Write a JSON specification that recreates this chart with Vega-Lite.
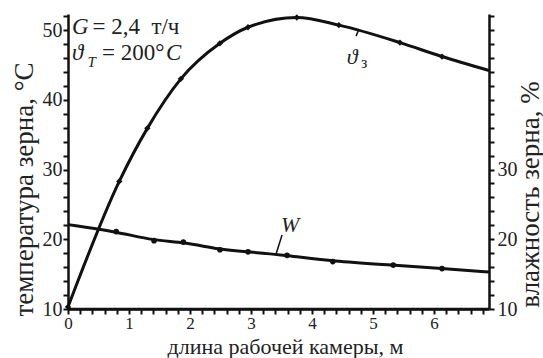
{
  "$schema": "https://vega.github.io/schema/vega-lite/v6.json",
  "width": 421,
  "height": 295,
  "autosize": "none",
  "padding": {"left": 68, "top": 14, "right": 54, "bottom": 49},
  "background": "white",
  "config": {
    "view": {"stroke": null},
    "axis": {"labelFont": "Liberation Serif", "titleFont": "Liberation Serif", "grid": false, "domain": true, "ticks": true, "labels": true, "labelOverlap": false}
  },
  "datasets": {
    "temperature": [
      {"length": 0, "value": 10.3},
      {"length": 0.84, "value": 28.3},
      {"length": 1.3, "value": 35.9},
      {"length": 1.85, "value": 43.0},
      {"length": 2.49, "value": 48.1},
      {"length": 2.95, "value": 50.4},
      {"length": 3.75, "value": 51.8},
      {"length": 4.44, "value": 50.7},
      {"length": 5.44, "value": 48.2},
      {"length": 6.13, "value": 46.2},
      {"length": 6.9, "value": 44.2}
    ],
    "moisture": [
      {"length": 0, "value": 22.1},
      {"length": 0.79, "value": 21.1},
      {"length": 1.41, "value": 19.8},
      {"length": 1.89, "value": 19.6},
      {"length": 2.49, "value": 18.5},
      {"length": 2.95, "value": 18.2},
      {"length": 3.59, "value": 17.7},
      {"length": 4.34, "value": 16.8},
      {"length": 5.33, "value": 16.3},
      {"length": 6.13, "value": 15.8},
      {"length": 6.9, "value": 15.3}
    ],
    "leaderTemp": [
      {"length": 4.77, "value": 50.14, "length2": 4.721, "value2": 49.13}
    ],
    "leaderMoist": [
      {"length": 3.508, "value": 20.6, "length2": 3.41, "value2": 17.9}
    ],
    "notesItalic": [
      {"length": 0.066, "value": 50.43, "text": "G"},
      {"length": 0.066, "value": 46.7, "text": "ϑ"},
      {"length": 1.607, "value": 46.7, "text": "C"}
    ],
    "notesRoman": [
      {"length": 0.4, "value": 50.43, "text": "= 2,4\u00a0 т/ч"},
      {"length": 0.557, "value": 46.7, "text": "= 200°"}
    ],
    "notesSub": [
      {"length": 0.32, "value": 45.41, "text": "T"}
    ],
    "labelTemp": [
      {"length": 4.656, "value": 46.13, "text": "ϑ"}
    ],
    "labelTempSub": [
      {"length": 4.852, "value": 45.27, "text": "з"}
    ],
    "labelMoist": [
      {"length": 3.64, "value": 22.0, "text": "W"}
    ]
  },
  "encoding": {
    "x": {
      "field": "length", "type": "quantitative",
      "scale": {"domain": [0, 6.9], "nice": false, "zero": false},
      "axis": {
        "orient": "bottom",
        "grid": false,
        "domain": true,
        "ticks": true,
        "labels": true,
        "values": [0, 0.2, 0.4, 0.6, 0.8, 1, 1.2, 1.4, 1.6, 1.8, 2, 2.2, 2.4, 2.6, 2.8, 3, 3.2, 3.4, 3.6, 3.8, 4, 4.2, 4.4, 4.6, 4.8, 5, 5.2, 5.4, 5.6, 5.8, 6, 6.2, 6.4, 6.6, 6.8],
        "labelExpr": "abs(datum.value - round(datum.value)) < 0.001 ? format(datum.value, 'd') : ''",
        "domainColor": "#111",
        "domainWidth": 2.5,
        "tickColor": "#111",
        "tickWidth": 2,
        "tickSize": 5,
        "labelFont": "Liberation Serif",
        "labelFontSize": 17,
        "labelColor": "#222",
        "labelPadding": 1,
        "labelOverlap": false,
        "labelBound": false,
        "labelFlush": false,
        "title": "длина рабочей камеры, м",
        "titleFont": "Liberation Serif",
        "titleFontWeight": "normal",
        "titleColor": "#222",
        "titleFontSize": 22,
        "titleX": 217,
        "titleY": 44.5,
        "titleAlign": "center",
        "titleBaseline": "alphabetic"
      }
    }
  },
  "layer": [
    {
      "encoding": {
        "y": {
          "field": "value", "type": "quantitative",
          "scale": {"domain": [10, 52.3], "nice": false, "zero": false},
          "axis": {
            "orient": "left",
            "grid": false,
            "domain": true,
            "ticks": true,
            "labels": true,
            "values": [10, 12, 14, 16, 18, 20, 22, 24, 26, 28, 30, 32, 34, 36, 38, 40, 42, 44, 46, 48, 50, 52],
            "labelExpr": "datum.value % 10 == 0 ? format(datum.value, 'd') : ''",
            "domainColor": "#111",
            "domainWidth": 2.5,
            "tickColor": "#111",
            "tickWidth": 2,
            "tickSize": 5,
            "labelFont": "Liberation Serif",
            "labelFontSize": 20,
            "labelColor": "#222",
            "labelPadding": 1,
            "labelOverlap": false,
            "labelBound": false,
            "labelFlush": false,
            "title": "температура зерна, °C",
            "titleFont": "Liberation Serif",
            "titleFontWeight": "normal",
            "titleColor": "#222",
            "titleFontSize": 27,
            "titleAngle": 270,
            "titleX": -44,
            "titleY": 175,
            "titleAlign": "center",
            "titleBaseline": "middle"
          }
        }
      },
      "layer": [
        {
          "data": {"name": "temperature"},
          "mark": {"type": "line", "interpolate": "monotone", "color": "#111", "strokeWidth": 3}
        },
        {
          "data": {"name": "temperature"},
          "transform": [{"filter": "datum.length < 6.85"}],
          "mark": {"type": "point", "shape": "diamond", "filled": true, "color": "#111", "size": 40, "opacity": 1}
        },
        {
          "data": {"name": "leaderTemp"},
          "mark": {"type": "rule", "color": "#111", "strokeWidth": 1.5},
          "encoding": {"x2": {"field": "length2"}, "y2": {"field": "value2"}}
        },
        {
          "data": {"name": "notesItalic"},
          "mark": {"type": "text", "font": "Liberation Serif", "fontStyle": "italic", "fontSize": 23, "align": "left", "baseline": "middle", "color": "#222"},
          "encoding": {"text": {"field": "text"}}
        },
        {
          "data": {"name": "notesRoman"},
          "mark": {"type": "text", "font": "Liberation Serif", "fontSize": 23, "align": "left", "baseline": "middle", "color": "#222"},
          "encoding": {"text": {"field": "text"}}
        },
        {
          "data": {"name": "notesSub"},
          "mark": {"type": "text", "font": "Liberation Serif", "fontStyle": "italic", "fontSize": 15, "align": "left", "baseline": "middle", "color": "#222"},
          "encoding": {"text": {"field": "text"}}
        },
        {
          "data": {"name": "labelTemp"},
          "mark": {"type": "text", "font": "Liberation Serif", "fontStyle": "italic", "fontSize": 22, "align": "center", "baseline": "middle", "color": "#222"},
          "encoding": {"text": {"field": "text"}}
        },
        {
          "data": {"name": "labelTempSub"},
          "mark": {"type": "text", "font": "Liberation Serif", "fontSize": 16, "align": "center", "baseline": "middle", "color": "#222"},
          "encoding": {"text": {"field": "text"}}
        }
      ]
    },
    {
      "encoding": {
        "y": {
          "field": "value", "type": "quantitative",
          "scale": {"domain": [10, 52.3], "nice": false, "zero": false},
          "axis": {
            "orient": "right",
            "grid": false,
            "domain": true,
            "ticks": true,
            "labels": true,
            "values": [10, 12, 14, 16, 18, 20, 22, 24, 26, 28, 30, 32, 34, 36, 38, 40, 42, 44, 46, 48, 50, 52],
            "labelExpr": "datum.value % 10 == 0 && datum.value <= 30 ? format(datum.value, 'd') : ''",
            "domainColor": "#111",
            "domainWidth": 2.5,
            "tickColor": "#111",
            "tickWidth": 2,
            "tickSize": 5,
            "labelFont": "Liberation Serif",
            "labelFontSize": 20,
            "labelColor": "#222",
            "labelPadding": 3,
            "labelOverlap": false,
            "labelBound": false,
            "labelFlush": false,
            "title": "влажность зерна, %",
            "titleFont": "Liberation Serif",
            "titleFontWeight": "normal",
            "titleColor": "#222",
            "titleFontSize": 27,
            "titleAngle": 270,
            "titleX": 41,
            "titleY": 180,
            "titleAlign": "center",
            "titleBaseline": "middle"
          }
        }
      },
      "layer": [
        {
          "data": {"name": "moisture"},
          "mark": {"type": "line", "interpolate": "basis", "color": "#111", "strokeWidth": 3}
        },
        {
          "data": {"name": "moisture"},
          "transform": [{"filter": "datum.length > 0 && datum.length < 6.85"}],
          "mark": {"type": "point", "shape": "circle", "filled": true, "color": "#111", "size": 32, "opacity": 1}
        },
        {
          "data": {"name": "moisture"},
          "mark": {"type": "line", "color": "#111", "strokeWidth": 2.5},
          "encoding": {"y": {"datum": 10}}
        },
        {
          "data": {"name": "leaderMoist"},
          "mark": {"type": "rule", "color": "#111", "strokeWidth": 1.5},
          "encoding": {"x2": {"field": "length2"}, "y2": {"field": "value2"}}
        },
        {
          "data": {"name": "labelMoist"},
          "mark": {"type": "text", "font": "Liberation Serif", "fontStyle": "italic", "fontSize": 22, "align": "center", "baseline": "middle", "color": "#222"},
          "encoding": {"text": {"field": "text"}}
        }
      ]
    }
  ],
  "resolve": {"scale": {"y": "shared"}}
}
